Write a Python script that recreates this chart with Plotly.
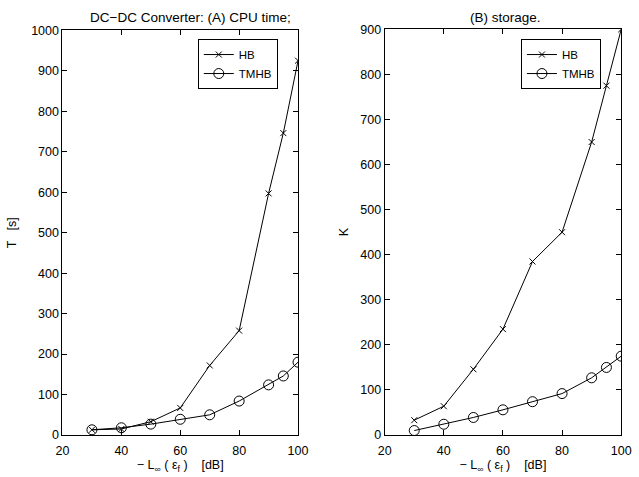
import plotly.graph_objects as go

x_db = [30, 40, 50, 60, 70, 80, 90, 95, 100]
hb_time = [13, 15, 33, 67, 172, 258, 597, 746, 925]
tmhb_time = [13, 18, 27, 39, 50, 84, 124, 146, 180]
hb_storage = [33, 64, 146, 235, 385, 450, 650, 775, 900]
tmhb_storage = [10, 24, 39, 56, 74, 92, 127, 150, 175]

W, H = 639, 477
fig = go.Figure()

line = dict(color="black", width=1)
xm = dict(symbol="x-thin-open", size=6, color="black", line=dict(color="black", width=1))
om = dict(symbol="circle-open", size=10, color="black", line=dict(color="black", width=1))

fig.add_trace(go.Scatter(x=x_db, y=hb_time, mode="lines+markers", name="HB", line=line, marker=xm, xaxis="x", yaxis="y", legend="legend"))
fig.add_trace(go.Scatter(x=x_db, y=tmhb_time, mode="lines+markers", name="TMHB", line=line, marker=om, xaxis="x", yaxis="y", legend="legend"))
fig.add_trace(go.Scatter(x=x_db, y=hb_storage, mode="lines+markers", name="HB", line=line, marker=xm, xaxis="x2", yaxis="y2", legend="legend2"))
fig.add_trace(go.Scatter(x=x_db, y=tmhb_storage, mode="lines+markers", name="TMHB", line=line, marker=om, xaxis="x2", yaxis="y2", legend="legend2"))

# pixel geometry
L1, R1 = 57, 299
L2, R2 = 388, 631
T1, T2, B = 24, 23, 441

def fx(px):
    return px / W

def fy(py):
    return 1 - py / H

fam = "Liberation Sans, Arial, sans-serif"
font = dict(family=fam, size=12.5, color="black")
lfont = dict(family=fam, size=11.5, color="black")
tfont = dict(family=fam, size=13.5, color="black")
axcommon = dict(showline=True, linecolor="black", linewidth=1, mirror="ticks", ticks="inside",
                ticklen=5, tickcolor="black", showgrid=False, zeroline=False, tickfont=font)

xlabel = "− L<sub>∞</sub> ( ε<sub>f</sub> )    [dB]"

fig.update_layout(
    width=W, height=H,
    margin=dict(l=0, r=0, t=0, b=0),
    paper_bgcolor="white", plot_bgcolor="white",
    font=font,
    xaxis=dict(domain=[fx(L1), fx(R1)], range=[20, 100], dtick=20, anchor="y", ticklabelstandoff=4,
               title=dict(text=xlabel, font=font, standoff=0), **axcommon),
    yaxis=dict(domain=[fy(B), fy(T1)], range=[0, 1000], dtick=100, anchor="x",
               title=dict(text="T   [s]", font=font, standoff=11), **axcommon),
    xaxis2=dict(domain=[fx(L2), fx(R2)], range=[20, 100], dtick=20, anchor="y2", ticklabelstandoff=4,
                title=dict(text=xlabel, font=font, standoff=0), **axcommon),
    yaxis2=dict(domain=[fy(B), fy(T2)], range=[0, 900], dtick=100, anchor="x2",
                title=dict(text="K", font=font, standoff=8), **axcommon),
    legend=dict(x=fx(196), y=fy(33), xanchor="left", yanchor="top", bgcolor="white",
                bordercolor="black", borderwidth=1, font=lfont, tracegroupgap=0),
    legend2=dict(x=fx(528), y=fy(33), xanchor="left", yanchor="top", bgcolor="white",
                 bordercolor="black", borderwidth=1, font=lfont, tracegroupgap=0),
    annotations=[
        dict(text="DC−DC Converter: (A) CPU time;", x=fx(83), y=fy(11), xref="paper", yref="paper",
             xanchor="left", yanchor="middle", showarrow=False, font=tfont),
        dict(text="(B) storage.", x=fx(474), y=fy(11), xref="paper", yref="paper",
             xanchor="left", yanchor="middle", showarrow=False, font=tfont),
    ],
)

fig.write_html("out.html")
